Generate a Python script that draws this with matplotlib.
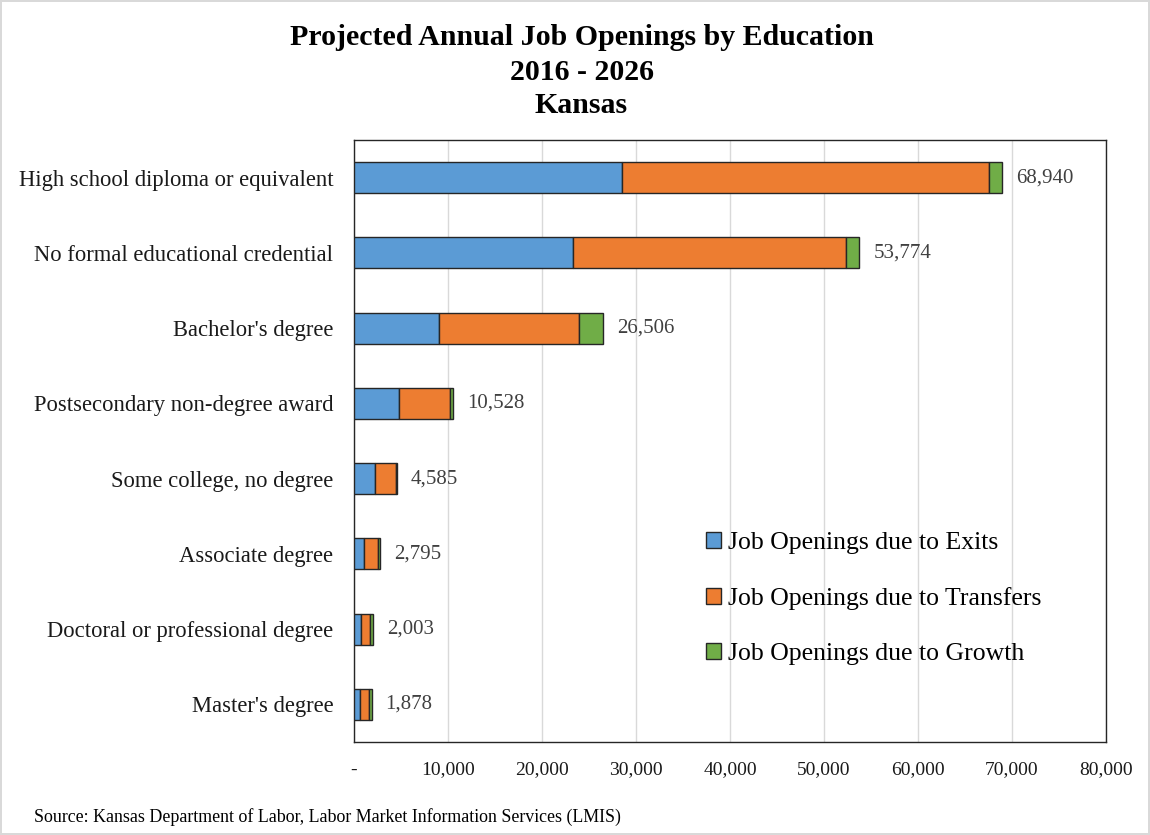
import matplotlib
matplotlib.use("Agg")
import matplotlib.pyplot as plt
import numpy as np
from matplotlib.ticker import FuncFormatter

plt.rcParams['font.family'] = ['Liberation Serif', 'DejaVu Serif']

# Data
categories = [
    "High school diploma or equivalent",
    "No formal educational credential",
    "Bachelor's degree",
    "Postsecondary non-degree award",
    "Some college, no degree",
    "Associate degree",
    "Doctoral or professional degree",
    "Master's degree",
]
exits = [28490, 23250, 9020, 4745, 2270, 1060, 780, 680]
transfers = [39100, 29050, 14910, 5445, 2160, 1490, 960, 950]
growth = [1350, 1474, 2576, 338, 155, 245, 263, 248]
totals = [68940, 53774, 26506, 10528, 4585, 2795, 2003, 1878]

series_names = ["Job Openings due to Exits",
                "Job Openings due to Transfers",
                "Job Openings due to Growth"]
colors = ['#5B9BD5', '#ED7D31', '#70AD47']

fig = plt.figure(figsize=(11.5, 8.35), dpi=100)
ax = fig.add_axes([0.3078, 0.1114, 0.6539, 0.7209])

y = np.arange(len(categories))
left = np.zeros(len(categories))
handles = []
for vals, color, name in zip([exits, transfers, growth], colors, series_names):
    b = ax.barh(y, vals, left=left, height=0.41, color=color,
                edgecolor='#262626', linewidth=1.0, label=name, zorder=3)
    handles.append(b)
    left = left + np.array(vals)

# total labels
for yi, t, end in zip(y, totals, left):
    ax.annotate(f"{t:,}", xy=(end, yi), xytext=(10, 0), textcoords='offset points',
                va='center', ha='left', fontsize=15, color='#404040')

ax.set_xlim(0, 80000)
ax.set_ylim(len(categories) - 0.5, -0.5)
ax.set_xticks(np.arange(0, 80001, 10000))
ax.xaxis.set_major_formatter(FuncFormatter(lambda v, p: '-' if v == 0 else f"{int(v):,}"))
ax.set_yticks(y)
ax.set_yticklabels(categories, fontsize=16.3, color='#1a1a1a')
ax.tick_params(axis='x', labelsize=14, colors='#1a1a1a', length=0, pad=14)
ax.tick_params(axis='y', length=0, pad=15)
ax.grid(axis='x', color='#D9D9D9', linewidth=1, zorder=0)
for s in ax.spines.values():
    s.set_color('#262626')
    s.set_linewidth(1.0)

leg = ax.legend(handles=handles, loc='upper left', bbox_to_anchor=(0.605, 0.375),
                bbox_transform=fig.transFigure, frameon=False, fontsize=18.5,
                handlelength=0.6, handleheight=0.6, handletextpad=0.25,
                labelspacing=1.28, borderaxespad=0)

fig.text(0.5057, 0.955, "Projected Annual Job Openings by Education", ha='center', va='center',
         fontsize=21.5, fontweight='bold')
fig.text(0.5057, 0.913, "2016 - 2026", ha='center', va='center', fontsize=21.5, fontweight='bold')
fig.text(0.5057, 0.874, "Kansas", ha='center', va='center', fontsize=21.5, fontweight='bold')

fig.text(0.03, 0.021, "Source: Kansas Department of Labor, Labor Market Information Services (LMIS)",
         ha='left', va='center', fontsize=12.9)

fig.patch.set_edgecolor('#D9D9D9')
fig.patch.set_linewidth(1.5)

fig.savefig("out.png", dpi=100, edgecolor=fig.get_edgecolor())
